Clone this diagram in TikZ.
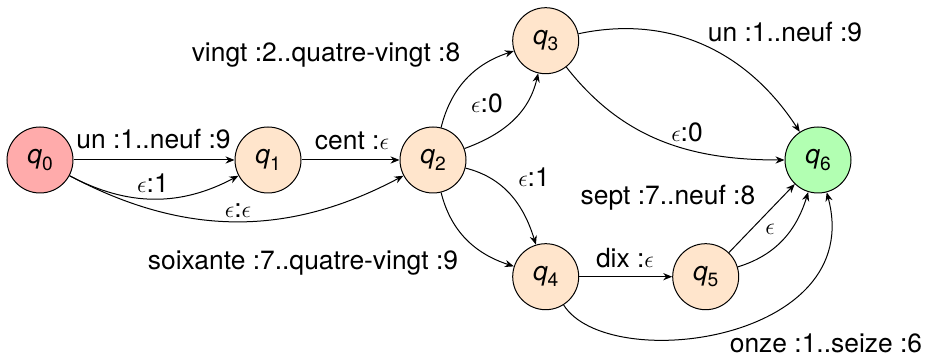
\documentclass[tikz,border=0pt]{standalone}
\usepackage{fontspec}
\setmainfont{TeX Gyre Heros}
\usetikzlibrary{arrows.meta}
\newcommand\qn[1]{\textit{q}\raisebox{-0.45ex}{\fontsize{9.6}{10}\selectfont #1}}
\begin{document}
\begin{tikzpicture}[x=0.5pt,y=-0.5pt,
  state/.style={circle,draw,line width=0.5pt,minimum size=33pt,inner sep=0pt,font=\fontsize{13.2}{15}\selectfont},
  lbl/.style={inner sep=0pt,text height=9.5pt,text depth=0pt,font=\fontsize{13.2}{15}\selectfont},
  tr/.style={-{Stealth[length=4.5pt,width=3.6pt]},line width=0.5pt}]
\useasboundingbox (0,0) rectangle (944,357);
\node[state,fill=red!33] (q0) at (40,160) {\qn0};
\node[state,fill=orange!20] (q1) at (268,160) {\qn1};
\node[state,fill=orange!20] (q2) at (433,160) {\qn2};
\node[state,fill=orange!20] (q3) at (545.7,40.7) {\qn3};
\node[state,fill=orange!20] (q4) at (545.7,276.7) {\qn4};
\node[state,fill=orange!20] (q5) at (705.7,276.7) {\qn5};
\node[state,fill=green!30] (q6) at (818,160) {\qn6};

\draw[tr] (q0) -- (q1);
\draw[tr] (q0) to[out=-28,in=-152] (q1);
\draw[tr] (q0) to[out=-28,in=-152] (q2);
\draw[tr] (q1) -- (q2);
\draw[tr] (q2) to[out=76,in=-162] (q3);
\draw[tr] (q2) to[out=20,in=-103] (q3);
\draw[tr] (q2) to[out=-14,in=107] (q4);
\draw[tr] (q2) to[out=-76,in=162] (q4);
\draw[tr] (q3) to[out=12,in=123] (q6);
\draw[tr] (q3) to[out=-52,in=180] (q6);
\draw[tr] (q4) -- (q5);
\draw[tr] (q5) -- (q6);
\draw[tr] (q5) to[out=17,in=-107] (q6);
\draw[tr] (q4) .. controls (608,375) and (867,342) .. (q6);

\node[lbl] (l01a) at (153.5,139) {un :1..neuf :9};
\node[lbl] (l01b) at (153,183) {$\epsilon$:1};
\node[lbl] (l02) at (238,208) {$\epsilon$:$\epsilon$};
\node[lbl] (l12) at (352,140) {cent :$\epsilon$};
\node[lbl] (l23a) at (326,52) {vingt :2..quatre-vingt :8};
\node[lbl] (l23b) at (487,103) {$\epsilon$:0};
\node[lbl] (l24a) at (534,177) {$\epsilon$:1};
\node[lbl] (l24b) at (303,260) {soixante :7..quatre-vingt :9};
\node[lbl] (l36a) at (785,32) {un :1..neuf :9};
\node[lbl] (l36b) at (687,132) {$\epsilon$:0};
\node[lbl] (l45) at (625,258) {dix :$\epsilon$};
\node[lbl] (l56a) at (668,195) {sept :7..neuf :8};
\node[lbl] (l56b) at (770,225) {$\epsilon$};
\node[lbl] (l46) at (826,343) {onze :1..seize :6};
\end{tikzpicture}
\end{document}
